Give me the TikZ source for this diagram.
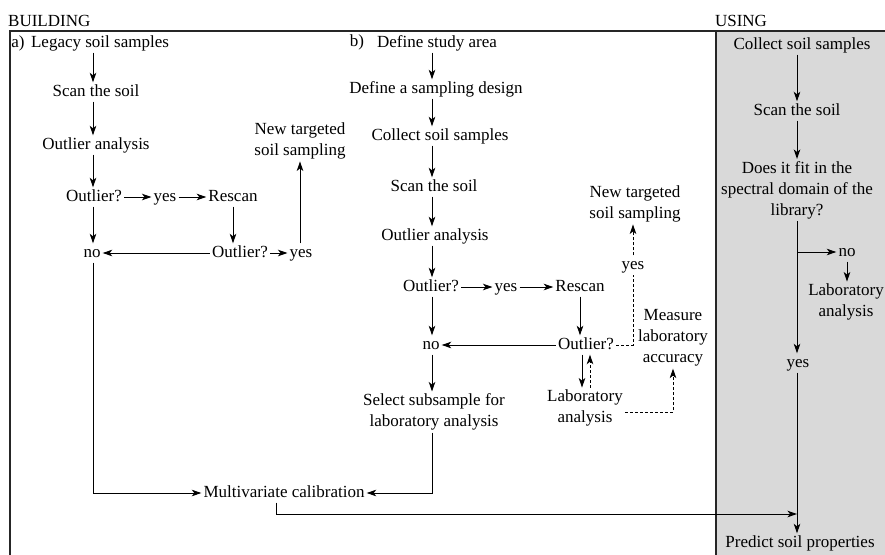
\documentclass[tikz,border=0pt]{standalone}
\usepackage{fontspec}
\setmainfont{Liberation Serif}
\usetikzlibrary{arrows.meta}
\begin{document}
\begin{tikzpicture}[x=1pt,y=-1pt,
  every node/.style={font=\fontsize{17}{21}\selectfont, inner sep=2pt},
  t/.style={text height=11.5pt,text depth=3.5pt},
  m/.style={align=center},
  ln/.style={line width=1pt},
  arr/.style={ln,-{Stealth[length=9.5pt,width=6.5pt,inset=2.5pt]}},
  dsh/.style={dash pattern=on 3pt off 2pt},
  frame/.style={line width=1.3pt, black!85}]
\useasboundingbox (0,0) rectangle (885,554);
% panels
\fill[black!15] (716,31) rectangle (890,560);
\draw[frame] (10,560) -- (10,31) -- (890,31);
\draw[frame] (716,31) -- (716,560);
\node[anchor=base west, inner sep=0] (hb) at (8,26) {BUILDING};
\node[anchor=base, inner sep=0] (hu) at (741,26) {USING};

% column coordinates
\coordinate (ca) at (93,0);
\coordinate (cb) at (432,0);
\coordinate (cr) at (797,0);

% ---------------- a) ----------------
\node[t] (la) at (18,43) {a)};
\node[t] (A1) at (100,43) {Legacy soil samples};
\node[t] (A2) at (96,92) {Scan the soil};
\node[t] (A3) at (96,145) {Outlier analysis};
\node[t] (A4) at (94,197) {Outlier?};
\node[t] (A5) at (165,197) {yes};
\node[t] (A6) at (233,197) {Rescan};
\node[t] (A7) at (240,253) {Outlier?};
\node[t] (A8) at (92,253) {no};
\node[t] (A9) at (301,253) {yes};
\node[m] (A10) at (300,141) {New targeted\\soil sampling};

\draw[arr] (A1.south -| ca) -- (A2.north -| ca);
\draw[arr] (A2.south -| ca) -- (A3.north -| ca);
\draw[arr] (A3.south -| ca) -- (A4.north -| ca);
\draw[arr] (A4.south -| ca) -- (A8.north -| ca);
\draw[arr] (A4.east) -- (A5.west);
\draw[arr] (A5.east) -- (A6.west);
\draw[arr] (A6.south) -- (A7.north -| A6);
\draw[arr] (A7.west) -- (A8.east);
\draw[arr] (A7.east) -- (A9.west);
\draw[arr] (A9.north -| A10) -- (A10.south);

% ---------------- b) ----------------
\node[t] (lb) at (357,42) {b)};
\node[t] (B1) at (437,43) {Define study area};
\node[t] (B2) at (436,89) {Define a sampling design};
\node[t] (B3) at (440,136) {Collect soil samples};
\node[t] (B4) at (434,187) {Scan the soil};
\node[t] (B5) at (435,236) {Outlier analysis};
\node[t] (B6) at (431,287) {Outlier?};
\node[t] (B7) at (506,287) {yes};
\node[t] (B8) at (580,287) {Rescan};
\node[t] (B9) at (586,345) {Outlier?};
\node[t] (B10) at (431,345) {no};
\node[m] (B11) at (434,412) {Select subsample for\\laboratory analysis};
\node[m] (B12) at (585,408) {Laboratory\\analysis};
\node[m] (B13) at (673,338) {Measure\\laboratory\\accuracy};
\node[t] (B14) at (633,265) {yes};
\node[m] (B15) at (635,204) {New targeted\\soil sampling};

\draw[arr] (B1.south -| cb) -- (B2.north -| cb);
\draw[arr] (B2.south -| cb) -- (B3.north -| cb);
\draw[arr] (B3.south -| cb) -- (B4.north -| cb);
\draw[arr] (B4.south -| cb) -- (B5.north -| cb);
\draw[arr] (B5.south -| cb) -- (B6.north -| cb);
\draw[arr] (B6.south -| cb) -- (B10.north -| cb);
\draw[arr] (B6.east) -- (B7.west);
\draw[arr] (B7.east) -- (B8.west);
\draw[arr] (B8.south) -- (B9.north -| B8);
\draw[arr] (B9.west) -- (B10.east);
\draw[arr] (B10.south -| cb) -- (B11.north -| cb);
\draw[arr] ([xshift=-4pt]B9.south) -- ([xshift=-4pt]B9.south |- B12.north);
\draw[arr,dsh] ([xshift=4pt]B9.south |- B12.north) -- ([xshift=4pt]B9.south);
\draw[ln,dsh] (B9.east) -| (B14.south);
\draw[arr,dsh] (B14.north) -- (B15.south -| B14);
\draw[arr,dsh] ([yshift=-4pt]B12.east) -| (B13.south);

% ---------------- calibration ----------------
\node[t] (MC) at (284,493) {Multivariate calibration};
\draw[arr] (A8.south -| ca) |- (MC.west);
\draw[arr] (B11.south -| cb) |- (MC.east);

% ---------------- USING ----------------
\node[t] (R1) at (802,45) {Collect soil samples};
\node[t] (R2) at (797,111) {Scan the soil};
\node[m] (R3) at (797,190) {Does it fit in the\\spectral domain of the\\library?};
\node[t] (R4) at (847,252) {no};
\node[m] (R5) at (846,302) {Laboratory\\analysis};
\node[t] (R6) at (798,363) {yes};
\node[t] (R7) at (800,543) {Predict soil properties};
\coordinate (br) at (797,252);
\coordinate (jn) at (797,514);

\draw[arr] (R1.south -| cr) -- (R2.north -| cr);
\draw[arr] (R2.south -| cr) -- (R3.north -| cr);
\draw[arr] (R3.south -| cr) -- (R6.north -| cr);
\draw[arr] (br) -- (R4.west);
\draw[arr] (R4.south) -- (R5.north -| R4);
\draw[arr] (R6.south -| cr) -- (R7.north -| cr);
\draw[arr] ([xshift=-8pt]MC.south) |- (jn);
\end{tikzpicture}
\end{document}
